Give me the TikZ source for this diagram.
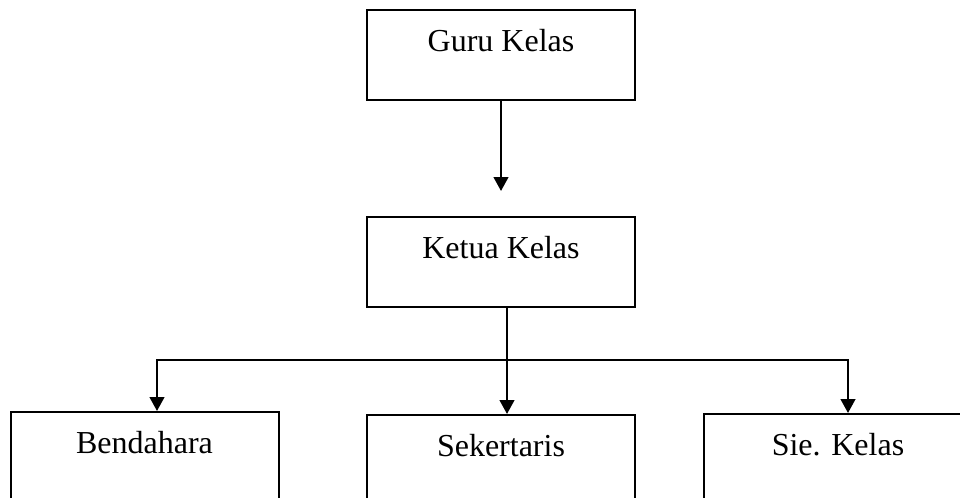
\documentclass[tikz,border=0pt]{standalone}
\usepackage{fontspec}
\setmainfont{Liberation Serif}
\usetikzlibrary{arrows.meta}
\tikzset{
  kotak/.style={draw, line width=1.5pt, minimum width=201pt, inner sep=0pt,
    text height=30.75pt, text depth=36.75pt, anchor=north,
    font=\fontsize{24}{28}\selectfont},
  panah/.style={line width=1.7pt, -{Triangle[width=11pt,length=10.5pt]}}
}
\begin{document}
\begin{tikzpicture}[x=0.75pt,y=-0.75pt]
    \useasboundingbox (0,0) rectangle (960,497);
    \node[kotak] (guru) at (501,9) {Guru Kelas};
    \node[kotak] (ketua) at (501,216) {Ketua Kelas};
    \node[kotak] (bendahara) at (144.5,411) {Bendahara};
    \node[kotak] (sekertaris) at (501,414) {Sekertaris};
    \node[kotak] (sie) at (838,413) {Sie. Kelas};
    \coordinate (cabang) at (507,360);
    \coordinate (kiri) at (157,360);
    \coordinate (kanan) at (848,360);
    \draw[panah, shorten >=18.75pt] (guru.south) -- (ketua.north);
    \draw[line width=1.7pt] (ketua.south -| cabang) -- (cabang);
    \draw[line width=1.2pt, line cap=rect] (kiri) -- (kanan);
    \draw[panah] (kiri) -- (kiri |- bendahara.north);
    \draw[panah] (cabang) -- (cabang |- sekertaris.north);
    \draw[panah] (kanan) -- (kanan |- sie.north);
\end{tikzpicture}
\end{document}
